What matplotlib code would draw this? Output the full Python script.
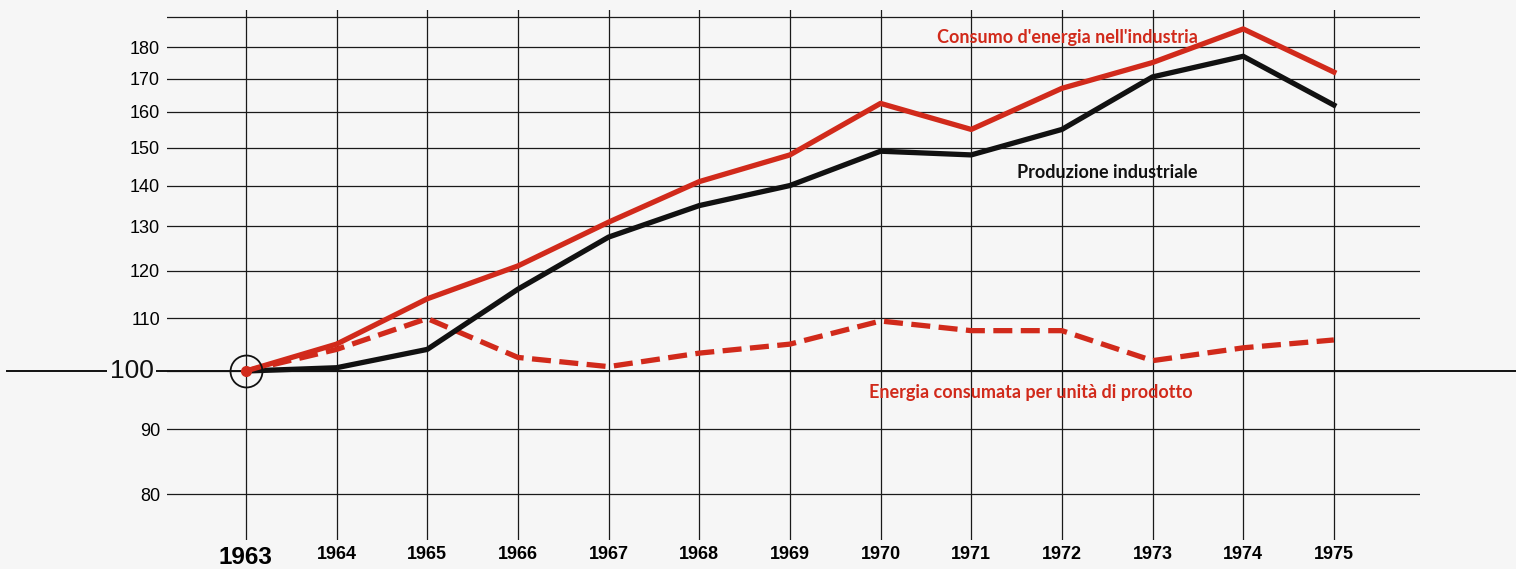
import matplotlib
matplotlib.use("Agg")
import matplotlib.pyplot as plt
from matplotlib.ticker import NullLocator

# dati (indici, 1963 = 100)
anni = [1963, 1964, 1965, 1966, 1967, 1968, 1969, 1970, 1971, 1972, 1973, 1974, 1975]
consumo_energia = [100, 105, 114, 121, 131, 141, 148, 162.5, 155, 167, 175, 186, 172]
produzione = [100, 100.6, 104, 116, 127.5, 135, 140, 149, 148, 155, 170.5, 177, 162]
energia_per_unita = [100, 104, 110, 102.5, 100.8, 103.3, 105, 109.5, 107.6, 107.6, 101.9, 104.3, 105.8]

y_griglia = [80, 90, 100, 110, 120, 130, 140, 150, 160, 170, 180, 190]
y_etichette = ['80', '90', '', '110', '120', '130', '140', '150', '160', '170', '180', '']

ROSSO = '#d12a1b'
NERO = '#111111'
SFONDO = '#f6f6f6'

W, H = 1516, 569
fig = plt.figure(figsize=(W / 100, H / 100), dpi=100, facecolor=SFONDO)
# assi posizionati in pixel: sinistra 167, destra 1420, alto 10, basso 540
ax = fig.add_axes([167 / W, (H - 540) / H, (1420 - 167) / W, 530 / H])
ax.set_facecolor(SFONDO)

ax.set_yscale('log')
ax.set_xlim(1962.13, 1975.95)
ax.set_ylim(73.6, 192.5)

for s in ax.spines.values():
    s.set_visible(False)

ax.set_yticks(y_griglia)
ax.set_yticklabels(y_etichette)
ax.yaxis.set_minor_locator(NullLocator())
ax.set_xticks(anni)
ax.set_xticklabels([str(a) for a in anni])
ax.tick_params(length=0)
ax.tick_params(axis='y', pad=5)
ax.tick_params(axis='x', pad=4)
ax.grid(True, color='#1a1a1a', linewidth=0.9)
ax.set_axisbelow(True)

for lab in ax.get_yticklabels():
    lab.set_family('Liberation Sans')
    lab.set_fontsize(13)
for i, lab in enumerate(ax.get_xticklabels()):
    if i == 0:
        lab.set_family('Liberation Sans')
        lab.set_fontsize(17.5)
    else:
        lab.set_family(['Liberation Sans Narrow', 'Liberation Sans'])
        lab.set_fontsize(13)
    lab.set_fontweight('bold')

# linea base 100, estesa su tutta la larghezza
ax.plot([1960.37, 1977.1], [100, 100], color=NERO, linewidth=1.4, clip_on=False, zorder=2)
ax.text(1961.98, 100, '100', ha='right', va='center', fontsize=19,
        family='Liberation Sans', color=NERO, zorder=3,
        bbox=dict(facecolor=SFONDO, edgecolor='none', pad=1.5), clip_on=False)

ax.plot(anni, energia_per_unita, color=ROSSO, linewidth=3.8, dashes=(3.6, 1.6), zorder=4)
ax.plot(anni, produzione, color=NERO, linewidth=3.8, zorder=5)
ax.plot(anni, consumo_energia, color=ROSSO, linewidth=3.8, zorder=6)

ax.plot([anni[0]], [100], 'o', markersize=23, markerfacecolor='none',
        markeredgecolor=NERO, markeredgewidth=1.3, zorder=7)
ax.plot([anni[0]], [100], 'o', markersize=7, color=ROSSO, zorder=8)

testo = dict(family='Lato', fontweight='bold', fontsize=13, va='center', ha='left')
ax.text(1970.62, 183.2, "Consumo d'energia nell'industria", color=ROSSO, **testo)
ax.text(1971.51, 143.4, 'Produzione industriale', color=NERO, **testo)
ax.text(1969.87, 96.1, 'Energia consumata per unità di prodotto', color=ROSSO, **testo)

fig.savefig('out.png', dpi=100, facecolor=SFONDO)
